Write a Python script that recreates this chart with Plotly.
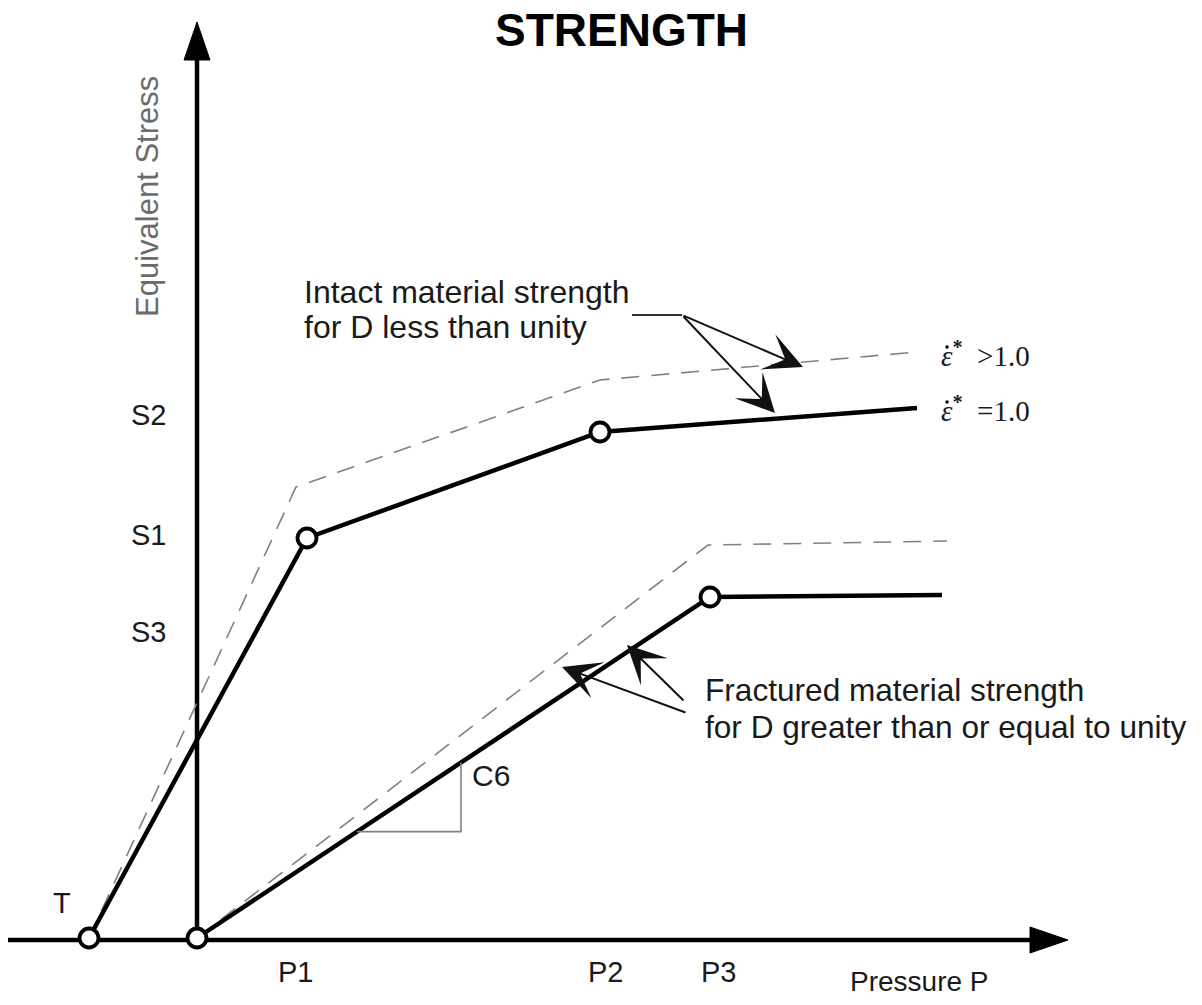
import plotly.graph_objects as go

# ---------------- data (pressure / equivalent-stress units, origin at P=0) -------------
intact_p = [-108, 110, 403, 720]
intact_s = [0, 400, 506, 530]
intact_fast_p = [-108, 99, 403, 720]
intact_fast_s = [0, 451, 558, 586]
frac_p = [0, 513, 745]
frac_s = [0, 341, 343]
frac_fast_p = [0, 511, 750]
frac_fast_s = [0, 393, 397]
point_p = [-108, 0, 110, 403, 513]
point_s = [0, 0, 400, 506, 341]
c6_p = [160, 264]            # extent of slope triangle along P

x_axis_p = [-189, 871]       # axis start / arrow tip
y_axis_s = [0, 916]

s_labels = ["S2", "S1", "S3"]
s_label_y = [523, 403, 306]
p_labels = ["P1", "P2", "P3"]
p_label_x = [98, 408, 521]
rate_relations = ["&gt;", "="]
rate_label_y = [584, 529]

# annotation arrows: (tail_p, tail_s, head_p, head_s)
intact_arrows = [(485, 623, 606, 571), (485, 623, 578, 525)]
frac_arrows = [(490, 225, 365, 271), (488, 236, 430, 293)]
intact_leader = [435, 485]

BLACK = "#000000"
GRAY = "#808080"
TXT = "#1a1a1a"
FONT = "Liberation Sans, Arial, sans-serif"
SERIF = "Liberation Serif, Times New Roman, serif"

fig = go.Figure()

# axes
fig.add_trace(go.Scatter(x=[x_axis_p[0], x_axis_p[1] - 38], y=[-2, -2], mode="lines",
                         line=dict(color=BLACK, width=4.5), hoverinfo="skip"))
fig.add_trace(go.Scatter(x=[x_axis_p[1] - 38, x_axis_p[1], x_axis_p[1] - 38, x_axis_p[1] - 38],
                         y=[-2 + 13, -2, -2 - 13, -2 + 13], mode="lines", fill="toself",
                         fillcolor=BLACK, line=dict(color=BLACK, width=1), hoverinfo="skip"))
fig.add_trace(go.Scatter(x=[0, 0], y=[y_axis_s[0], y_axis_s[1] - 38], mode="lines",
                         line=dict(color=BLACK, width=4.5), hoverinfo="skip"))
fig.add_trace(go.Scatter(x=[-13, 0, 13, -13],
                         y=[y_axis_s[1] - 38, y_axis_s[1], y_axis_s[1] - 38, y_axis_s[1] - 38],
                         mode="lines", fill="toself", fillcolor=BLACK,
                         line=dict(color=BLACK, width=1), hoverinfo="skip"))

# dashed curves
fig.add_trace(go.Scatter(x=intact_fast_p, y=intact_fast_s, mode="lines",
                         line=dict(color=GRAY, width=1.6, dash="18px,12px"), hoverinfo="skip"))
fig.add_trace(go.Scatter(x=frac_fast_p, y=frac_fast_s, mode="lines",
                         line=dict(color=GRAY, width=1.6, dash="18px,12px"), hoverinfo="skip"))

# solid curves
fig.add_trace(go.Scatter(x=intact_p, y=intact_s, mode="lines",
                         line=dict(color=BLACK, width=4.5), hoverinfo="skip"))
fig.add_trace(go.Scatter(x=frac_p, y=frac_s, mode="lines",
                         line=dict(color=BLACK, width=4.5), hoverinfo="skip"))

# C6 slope triangle
slope = frac_s[1] / frac_p[1]
fig.add_trace(go.Scatter(x=[c6_p[0], c6_p[1], c6_p[1]],
                         y=[slope * c6_p[0], slope * c6_p[0], slope * c6_p[1]],
                         mode="lines", line=dict(color=GRAY, width=1.6), hoverinfo="skip"))

# leader line for intact annotation
fig.add_trace(go.Scatter(x=intact_leader, y=[intact_arrows[0][1]] * 2, mode="lines",
                         line=dict(color="#333333", width=2), hoverinfo="skip"))

# circle markers
fig.add_trace(go.Scatter(x=point_p, y=point_s, mode="markers",
                         marker=dict(size=19, color="white", line=dict(color=BLACK, width=3.8)),
                         hoverinfo="skip"))

# dots above the epsilon (time derivative)
fig.add_trace(go.Scatter(x=[750] * len(rate_label_y), y=[v + 7 for v in rate_label_y],
                         mode="markers", marker=dict(size=3.5, color=BLACK),
                         hoverinfo="skip"))

ann = []
for tp, ts, hp, hs in intact_arrows + frac_arrows:
    ann.append(dict(x=hp, y=hs, ax=tp, ay=ts, xref="x", yref="y", axref="x", ayref="y",
                    text="", showarrow=True, arrowhead=3, arrowsize=3.2, arrowwidth=2,
                    arrowcolor="#111111", standoff=0))

def txt(x, y, t, size=30, xanchor="center", color=TXT, family=FONT, **kw):
    ann.append(dict(x=x, y=y, xref="x", yref="y", text=t, showarrow=False,
                    xanchor=xanchor, yanchor="middle",
                    font=dict(size=size, color=color, family=family), **kw))

for lab, yy in zip(s_labels, s_label_y):
    txt(-49, yy, lab, size=29)
for lab, xx in zip(p_labels, p_label_x):
    txt(xx, -34, lab, size=29)
txt(-135, 35, "T", size=29)
txt(651, -43, "Pressure P", size=28, xanchor="left")
txt(-50, 741, "Equivalent Stress", size=31, color="#6b6b6b", textangle=-90)
txt(105, 646, "Intact material strength", size=32, xanchor="left")
txt(105, 611, "for D less than unity", size=32, xanchor="left")
txt(506, 248, "Fractured material strength", size=31.6, xanchor="left")
txt(506, 211, "for D greater than or equal to unity", size=31.6, xanchor="left")
txt(273, 163, "C6", size=30, xanchor="left")
# strain-rate labels
for rel, yy in zip(rate_relations, rate_label_y):
    txt(742, yy, "<i>ε</i><sup><b>*</b></sup>  " + rel + "1.0", size=29, xanchor="left",
        family=SERIF)
txt(424, 908, "<b>STRENGTH</b>", size=46, color=BLACK)

fig.update_layout(
    width=1186, height=989, autosize=False,
    margin=dict(l=0, r=0, t=0, b=0),
    paper_bgcolor="white", plot_bgcolor="white",
    showlegend=False,
    xaxis=dict(range=[-189, 997], visible=False, fixedrange=True),
    yaxis=dict(range=[-59, 930], visible=False, fixedrange=True),
    annotations=ann,
)

fig.write_html("out.html")
